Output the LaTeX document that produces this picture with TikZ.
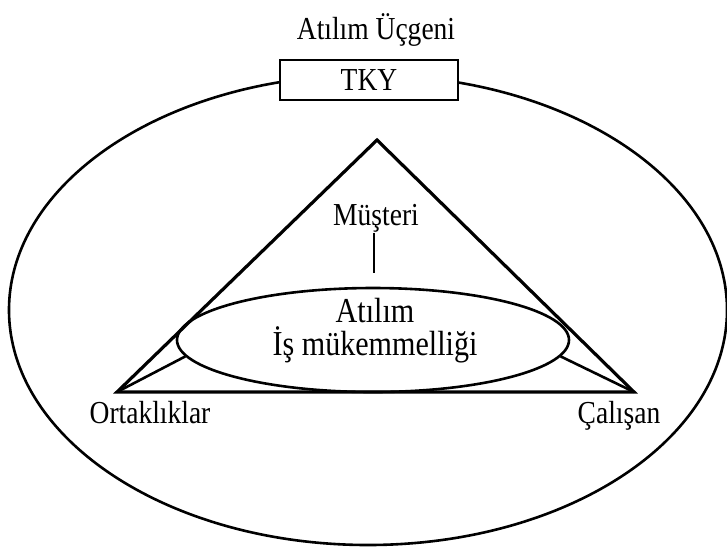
\documentclass[tikz,border=0pt]{standalone}
\usepackage{fontspec}
\setmainfont{Liberation Serif}[FakeStretch=0.86]
\usetikzlibrary{shapes.geometric}
\begin{document}
\begin{tikzpicture}[x=1pt,y=-1pt,line width=2.6pt,font=\fontsize{32}{33}\selectfont]
      \useasboundingbox (0,0) rectangle (727,550);

      \node[draw,ellipse,minimum width=718,minimum height=470,inner sep=0] (O) at (368,310) {};
      \node[draw,fill=white,minimum width=178,minimum height=40,inner sep=0] (TKY) at (369,80) {TKY};
      \node[inner sep=0] (T) at (376,30) {Atılım Üçgeni};

      \coordinate (A) at (377,140);
      \coordinate (L) at (117,392);
      \coordinate (R) at (634,392);

      \node[draw,ellipse,minimum width=392,minimum height=104,inner sep=0] (E) at (373,340) {};
      \node[inner sep=0,anchor=base,font=\fontsize{35}{36}\selectfont] (E1) at (375,322) {Atılım};
      \node[inner sep=0,anchor=base,font=\fontsize{35}{36}\selectfont] (E2) at (375,355) {İş mükemmelliği};

      \node[inner sep=0,anchor=base] (M) at (376,225) {Müşteri};
      \coordinate (M1) at (374,273);

      \node[inner sep=0,anchor=base] (OL) at (150,423) {Ortaklıklar};
      \node[inner sep=0,anchor=base] (CR) at (619,423) {Çalışan};

      \draw[line width=3.2pt,line join=miter] (A) -- (L) -- (R) -- cycle;
      \draw (L) -- (E.185);
      \draw (R) -- (E.355);
      \draw (M.south -| M1) -- (M1);
    \end{tikzpicture}
\end{document}
